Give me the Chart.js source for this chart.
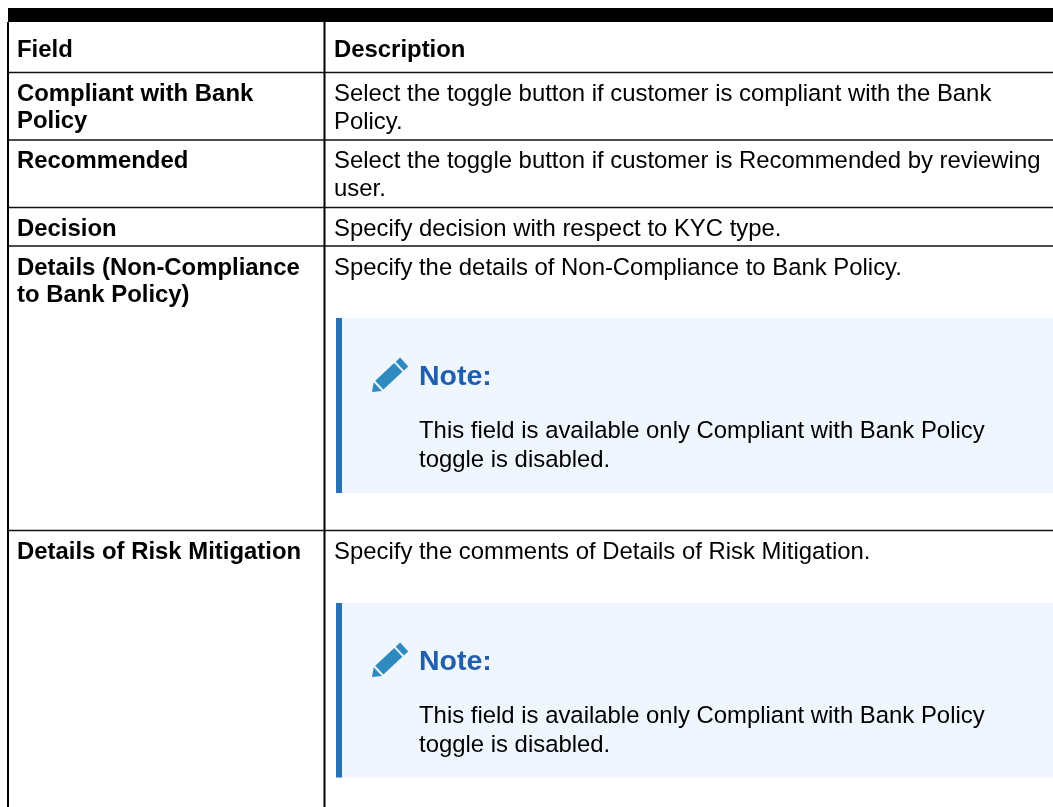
<!DOCTYPE html>
<html>
<head>
<meta charset="utf-8">
<title>Field descriptions</title>
<script src="https://cdn.jsdelivr.net/npm/chart.js@4/dist/chart.umd.min.js"></script>
<style>
  html, body { margin: 0; padding: 0; background: #fff; overflow: hidden; }
  canvas { display: block; }
</style>
</head>
<body>
<canvas id="table" width="1053" height="807"></canvas>
<script>
// table content
const headers = ['Field', 'Description'];
const fields = [
    ['Compliant with Bank', 'Policy'],
    ['Recommended'],
    ['Decision'],
    ['Details (Non-Compliance', 'to Bank Policy)'],
    ['Details of Risk Mitigation']
];
const descriptions = [
    ['Select the toggle button if customer is compliant with the Bank', 'Policy.'],
    ['Select the toggle button if customer is Recommended by reviewing', 'user.'],
    ['Specify decision with respect to KYC type.'],
    ['Specify the details of Non-Compliance to Bank Policy.'],
    ['Specify the comments of Details of Risk Mitigation.']
];
const noteTitle = 'Note:';
const noteLines = ['This field is available only Compliant with Bank Policy', 'toggle is disabled.'];

// layout, in page pixels
const W = 1053, H = 807;
const rowRules = [72.5, 140, 207.5, 246, 530.5];
const colRules = [8, 324.5];
const headerBaseline = 57;
const rowBaselines = [100.5, 168, 235.5, 274.5, 558.5];
const notes = [{ top: 318, bottom: 493 }, { top: 603, bottom: 777.5 }];

const FONT = '"Liberation Sans", Arial, sans-serif';
const SIZE = 23.9;
const FIELD_LINE = 27.5;
const DESC_LINE = 28.4;

function rule(x1, y1, x2, y2, color, width) {
    return {
        data: [{ x: x1, y: y1 }, { x: x2, y: y2 }],
        showLine: true,
        pointRadius: 0,
        borderColor: color,
        borderWidth: width
    };
}

const datasets = [
    rule(8, 15, W, 15, '#000', 14),
    ...rowRules.map(y => rule(8, y, W, y, '#111', 1.5)),
    ...colRules.map(x => rule(x, 22, x, H, '#000', 2))
];

// text, note boxes and the pencil are painted through the scales
const tablePlugin = {
    id: 'tablePlugin',
    beforeDatasetsDraw(chart) {
        const ctx = chart.ctx, sx = chart.scales.x, sy = chart.scales.y;
        notes.forEach(n => {
            const x = sx.getPixelForValue(336), t = sy.getPixelForValue(n.top), b = sy.getPixelForValue(n.bottom);
            ctx.fillStyle = '#eff6fe';
            ctx.fillRect(x, t, W - x, b - t);
            ctx.fillStyle = '#2a72b8';
            ctx.fillRect(x, t, 6, b - t);
        });
    },
    afterDatasetsDraw(chart) {
        const ctx = chart.ctx, sx = chart.scales.x, sy = chart.scales.y;
        const text = (str, x, y, font, color) => {
            ctx.font = font;
            ctx.fillStyle = color;
            ctx.textBaseline = 'alphabetic';
            ctx.fillText(str, sx.getPixelForValue(x), sy.getPixelForValue(y));
        };
        const bold = `bold ${SIZE}px ${FONT}`, plain = `${SIZE}px ${FONT}`;
        text(headers[0], 17, headerBaseline, bold, '#000');
        text(headers[1], 334, headerBaseline, bold, '#000');
        fields.forEach((lines, i) => lines.forEach((l, j) =>
            text(l, 17, rowBaselines[i] + j * FIELD_LINE, bold, '#000')));
        descriptions.forEach((lines, i) => lines.forEach((l, j) =>
            text(l, 334, rowBaselines[i] + j * DESC_LINE, plain, '#000')));
        notes.forEach(n => {
            text(noteTitle, 419, n.top + 67, `bold 28.5px ${FONT}`, '#1f5fae');
            noteLines.forEach((l, j) => text(l, 419, n.top + 119.5 + j * 29, plain, '#000'));
            drawPencil(ctx, sx.getPixelForValue(372), sy.getPixelForValue(n.top + 74));
        });
    }
};

function drawPencil(ctx, x, y) {
    ctx.save();
    ctx.translate(x, y);
    ctx.rotate(-43 * Math.PI / 180);
    ctx.fillStyle = '#2f8ac0';
    ctx.beginPath();
    ctx.moveTo(0, 0); ctx.lineTo(8, -6); ctx.lineTo(8, 6); ctx.closePath();
    ctx.fill();
    ctx.fillRect(10, -6, 26, 12);
    ctx.fillRect(38, -6, 6, 12);
    ctx.restore();
}

new Chart(document.getElementById('table'), {
    type: 'scatter',
    data: { datasets },
    plugins: [tablePlugin],
    options: {
        responsive: false,
        animation: false,
        layout: { padding: 0 },
        plugins: { legend: { display: false }, tooltip: { enabled: false } },
        scales: {
            x: { type: 'linear', min: 0, max: W, display: false },
            y: { type: 'linear', min: 0, max: H, reverse: true, display: false }
        }
    }
});
</script>
</body>
</html>
